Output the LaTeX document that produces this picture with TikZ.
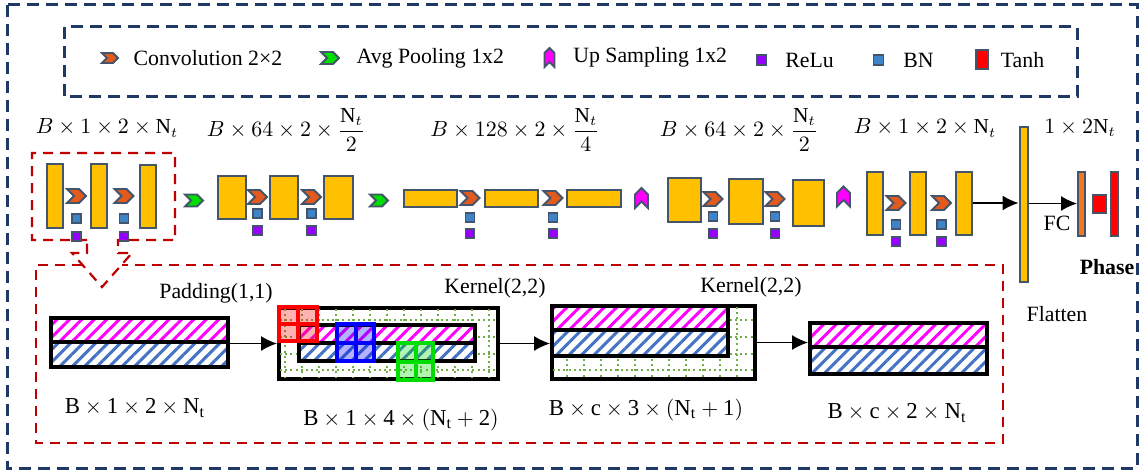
\documentclass[tikz,border=0pt]{standalone}
\usepackage{amsmath}
\usepackage{fontspec}
\setmainfont{Liberation Serif}
\usepackage{tikz}
\usetikzlibrary{arrows.meta, shapes.symbols, patterns.meta, positioning}
\definecolor{FrameNavy}{RGB}{32,56,100}
\definecolor{CallRed}{RGB}{192,0,0}
\definecolor{LayerYellow}{RGB}{255,192,0}
\definecolor{EdgeSlate}{RGB}{68,84,106}
\definecolor{ConvOrange}{RGB}{227,90,30}
\definecolor{PoolGreen}{RGB}{0,221,0}
\definecolor{UpMagenta}{RGB}{255,0,255}
\definecolor{ReluPurple}{RGB}{150,0,255}
\definecolor{BnBlue}{RGB}{61,133,198}
\definecolor{FcOrange}{RGB}{240,120,32}
\definecolor{HatchBlue}{RGB}{68,114,196}
\definecolor{GridGreen}{RGB}{112,173,71}
\tikzset{
  % blocchi della rete
  fmap/.style={rectangle,draw=EdgeSlate,fill=LayerYellow,line width=1pt,inner sep=0},
  conv/.style={signal,signal to=east,signal from=west,draw=EdgeSlate,fill=ConvOrange,line width=0.9pt,inner sep=0,minimum width=9.5pt,minimum height=7pt},
  pool/.style={conv,fill=PoolGreen,minimum width=9pt,minimum height=6pt},
  upsamp/.style={conv,fill=UpMagenta,rotate=90,minimum width=10pt,minimum height=6.5pt},
  bn/.style={rectangle,draw=EdgeSlate,fill=BnBlue,line width=0.9pt,inner sep=0,minimum size=4.5pt},
  relu/.style={bn,fill=ReluPurple},
  % testi
  txt/.style={font=\fontsize{10.9}{13}\selectfont,inner sep=0},
  dimtop/.style={font=\fontsize{10.7}{13}\selectfont,inner sep=0},
  dimlow/.style={font=\fontsize{11.4}{13}\selectfont,inner sep=0},
  % riquadri tratteggiati
  navybox/.style={draw=FrameNavy,line width=1.5pt,dash pattern=on 6pt off 3.5pt},
  zoomframe/.style={draw=CallRed,line width=1.1pt,dash pattern=on 5pt off 3.5pt},
  % matrici
  arraybox/.style={rectangle,draw=black,line width=2pt,inner sep=0,fill=white},
  hatchpink/.style={arraybox,preaction={fill=white},pattern={Lines[angle=45,distance=4.4pt,line width=1.5pt]},pattern color=UpMagenta},
  hatchblue/.style={hatchpink,pattern color=HatchBlue},
  gridline/.style={GridGreen,line width=0.9pt,dash pattern=on 1pt off 1.6pt},
  kernel/.style={rectangle,draw=#1,fill=#1,fill opacity=0.3,draw opacity=1,line width=2pt,inner sep=0},
  kernline/.style={draw=#1,line width=2pt},
  flow/.style={-{Latex[length=8pt,width=7.5pt]},line width=0.7pt},
}

\begin{document}
\begin{tikzpicture}[x=0.5pt,y=-0.5pt]
  \useasboundingbox (0,0) rectangle (1140,476);
  % cornici
  \draw[navybox] (7,5) rectangle (1137,468);
  \draw[navybox] (64,27) rectangle (1077,97);
  \draw[zoomframe] (87,240) -- (32,240) -- (32,153) -- (175,153) -- (175,240) -- (118,240)
    -- (118,253) -- (132,253) -- (102,287) -- (72,253) -- (87,253) -- cycle;
  \draw[zoomframe] (82,265) -- (36,265) -- (36,443) -- (1003,443) -- (1003,265) -- (122,265);

  % legenda
  \node[conv,minimum width=8pt,minimum height=5pt] (lgconv) at (110,58) {};
  \node[txt,right=7pt of lgconv] (lgconvt) {Convolution 2×2};
  \node[pool] (lgpool) at (330,58) {};
  \node[txt,right=8pt of lgpool] (lgpoolt) {Avg Pooling 1x2};
  \node[upsamp,minimum width=9.5pt,minimum height=5pt] (lgup) at (549.5,57.5) {};
  \node[txt,right=8.75pt of lgup.south] (lgupt) {Up Sampling 1x2};
  \node[relu,minimum size=5pt] (lgrelu) at (761.5,60) {};
  \node[txt,right=8.75pt of lgrelu] (lgrelut) {ReLu};
  \node[bn,minimum size=5pt] (lgbn) at (878.5,60) {};
  \node[txt,right=9.25pt of lgbn] (lgbnt) {BN};
  \node[fmap,fill=red,minimum width=6pt,minimum height=9.5pt] (lgtanh) at (982,60) {};
  \node[txt,right=5.75pt of lgtanh] (lgtanht) {Tanh};

  % dimensioni
  \node[dimtop] (dimA) at (107,128) {$B\times 1\times 2\times \mathrm{N}_t$};
  \node[dimtop] (dimB) at (286,130) {$B\times 64\times 2\times \dfrac{\mathrm{N}_t}{2}$};
  \node[dimtop] (dimC) at (515,130) {$B\times 128\times 2\times \dfrac{\mathrm{N}_t}{4}$};
  \node[dimtop] (dimD) at (739,130) {$B\times 64\times 2\times \dfrac{\mathrm{N}_t}{2}$};
  \node[dimtop] (dimE) at (925,128) {$B\times 1\times 2\times \mathrm{N}_t$};
  \node[dimtop] (dimF) at (1080,128) {$1\times 2\mathrm{N}_t$};

  % blocco 1
  \node[fmap,minimum width=8pt,minimum height=32pt] (a1) at (55,195.5) {};
  \node[fmap,minimum width=8pt,minimum height=32pt] (a2) at (98.5,195.5) {};
  \node[fmap,minimum width=8pt,minimum height=31.5pt] (a3) at (147.5,196.5) {};
  \node[conv] (ca1) at (76.5,196) {};
  \node[conv] (ca2) at (124,196) {};
  \node[bn,below=4.5pt of ca1] (na1) {};
  \node[relu,below=3.5pt of na1] (ra1) {};
  \node[bn,below=4.5pt of ca2] (na2) {};
  \node[relu,below=3.5pt of na2] (ra2) {};
  \node[pool] (p1) at (194,200.5) {};

  % blocco 2
  \node[fmap,minimum width=14pt,minimum height=21.5pt] (b1) at (232,197) {};
  \node[fmap,minimum width=14pt,minimum height=21.5pt] (b2) at (283.5,197) {};
  \node[fmap,minimum width=14.5pt,minimum height=21.5pt] (b3) at (338,197) {};
  \node[conv] (cb1) at (257.5,197) {};
  \node[conv] (cb2) at (311.5,197) {};
  \node[bn,below=1.5pt of cb1] (nb1) {};
  \node[relu,below=3pt of nb1] (rb1) {};
  \node[bn,below=1.5pt of cb2] (nb2) {};
  \node[relu,below=3pt of nb2] (rb2) {};
  \node[pool] (p2) at (379,200.5) {};

  % blocco 3
  \node[fmap,minimum width=26.5pt,minimum height=8.5pt] (c1) at (430,198) {};
  \node[fmap,minimum width=26.5pt,minimum height=8.5pt] (c2) at (511,198) {};
  \node[fmap,minimum width=27pt,minimum height=8.5pt] (c3) at (593.5,198) {};
  \node[conv] (cc1) at (470,198) {};
  \node[conv] (cc2) at (553,198) {};
  \node[bn,below=3pt of cc1] (nc1) {};
  \node[relu,below=2.5pt of nc1] (rc1) {};
  \node[bn,below=3pt of cc2] (nc2) {};
  \node[relu,below=2.5pt of nc2] (rc2) {};
  \node[upsamp] (u1) at (641.5,198) {};

  % blocco 4
  \node[fmap,minimum width=16.5pt,minimum height=22pt] (d1) at (684,199.5) {};
  \node[fmap,minimum width=17pt,minimum height=22.5pt] (d2) at (745.5,201) {};
  \node[fmap,minimum width=15.5pt,minimum height=23pt] (d3) at (808,202.5) {};
  \node[conv] (cd1) at (713,199) {};
  \node[conv] (cd2) at (775,199) {};
  \node[bn,below=2pt of cd1] (nd1) {};
  \node[relu,below=3pt of nd1] (rd1) {};
  \node[bn,below=2pt of cd2] (nd2) {};
  \node[relu,below=3pt of nd2] (rd2) {};
  \node[upsamp] (u2) at (843.5,196.5) {};

  % blocco 5
  \node[fmap,minimum width=8pt,minimum height=31.5pt] (e1) at (874.5,203) {};
  \node[fmap,minimum width=8pt,minimum height=31.5pt] (e2) at (918,203) {};
  \node[fmap,minimum width=8pt,minimum height=31.5pt] (e3) at (963.5,203) {};
  \node[conv] (ce1) at (896,203) {};
  \node[conv] (ce2) at (941.5,203) {};
  \node[bn,below=4pt of ce1] (ne1) {};
  \node[relu,below=3pt of ne1] (re1) {};
  \node[bn,below=4pt of ce2] (ne2) {};
  \node[relu,below=3pt of ne2] (re2) {};

  % uscita
  \node[fmap,minimum width=4pt,minimum height=77pt] (fl) at (1023.5,204.5) {};
  \node[fmap,fill=FcOrange,minimum width=3.5pt,minimum height=32pt] (fco) at (1081.5,203.5) {};
  \node[fmap,fill=red,minimum width=6.5pt,minimum height=9pt] (tsq) at (1099,203.5) {};
  \node[fmap,fill=red,minimum width=3.5pt,minimum height=32pt] (tbar) at (1114,203.5) {};
  \draw[flow] (e3.east) -- (e3.east -| fl.west);
  \draw[flow] (fl.east |- fco.west) -- (fco.west);
  \node[txt] (fc) at (1057,223) {FC};
  \node[txt,font=\fontsize{10.9}{13}\selectfont\bfseries] (phase) at (1107,267) {Phase};
  \node[txt] (flt) at (1057,314) {Flatten};

  % dettaglio della convoluzione
  \node[hatchpink,minimum width=88.5pt,minimum height=12pt] (inpT) at (139.5,330) {};
  \node[hatchblue,minimum width=88.5pt,minimum height=12.5pt] (inpB) at (139.5,354.5) {};

  \node[arraybox,minimum width=109.5pt,minimum height=35.5pt] (pad) at (388.5,343.5) {};
  \foreach \gx in {285,302,...,489} \draw[gridline] (\gx,309) -- (\gx,378);
  \foreach \gy in {320,337,354,370} \draw[gridline] (280,\gy) -- (497,\gy);
  \node[hatchpink,minimum width=88pt,minimum height=9pt] (padT) at (387,334) {};
  \node[hatchblue,minimum width=88pt,minimum height=9pt] (padB) at (387,352) {};
  \node[kernel=red,minimum width=19pt,minimum height=17pt] (kr) at (298,324) {};
  \draw[kernline=red] (kr.north) -- (kr.south) (kr.west) -- (kr.east);
  \node[kernel=blue,minimum width=18.5pt,minimum height=18.5pt] (kb) at (355.5,342.5) {};
  \draw[kernline=blue] (kb.north) -- (kb.south) (kb.west) -- (kb.east);
  \node[kernel=PoolGreen,minimum width=17.5pt,minimum height=18.5pt] (kg) at (415.5,361.5) {};
  \draw[kernline=PoolGreen] (kg.north) -- (kg.south) (kg.west) -- (kg.east);

  \node[arraybox,minimum width=101.5pt,minimum height=36.5pt] (cvo) at (653.5,342.5) {};
  \foreach \gx in {567,584,...,737} \draw[gridline] (\gx,307) -- (\gx,378);
  \foreach \gy in {320,337,354,370} \draw[gridline] (553,\gy) -- (754,\gy);
  \node[hatchpink,minimum width=88pt,minimum height=12pt] (cvoT) at (640,318) {};
  \node[hatchblue,minimum width=88pt,minimum height=13pt] (cvoB) at (640,343) {};

  \node[hatchpink,minimum width=88.5pt,minimum height=12pt] (outT) at (898.5,335) {};
  \node[hatchblue,minimum width=88.5pt,minimum height=13.5pt] (outB) at (898.5,360.5) {};

  \draw[flow] (inpT.south east) -- (inpT.south east -| pad.west);
  \draw[flow] (pad.east) -- (pad.east -| cvo.west);
  \draw[flow] (cvo.east) -- (cvo.east -| outT.west);

  \node[txt] (padlbl) at (216,293) {Padding(1,1)};
  \node[txt] (kerlblA) at (495,288) {Kernel(2,2)};
  \node[txt] (kerlblB) at (751,287) {Kernel(2,2)};
  \node[dimlow] (dimin) at (135,408) {$\mathrm{B\times 1\times 2\times N_t}$};
  \node[dimlow] (dimpad) at (401,420) {$\mathrm{B\times 1\times 4\times (N_t+2)}$};
  \node[dimlow] (dimcvo) at (646,410) {$\mathrm{B\times c\times 3\times (N_t+1)}$};
  \node[dimlow] (dimout) at (897,413) {$\mathrm{B\times c\times 2\times N_t}$};
\end{tikzpicture}
\end{document}
